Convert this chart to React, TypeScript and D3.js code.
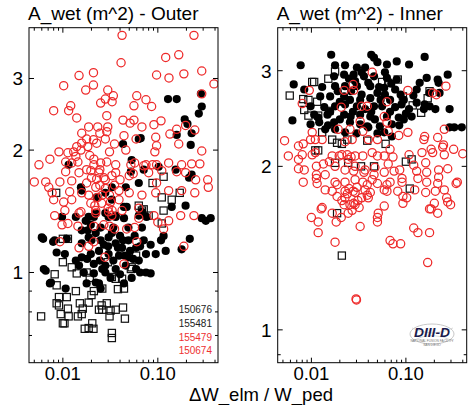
import React from 'react';
import * as d3 from 'd3';

type Pt = [number, number];

// ---- Outer divertor (left panel) ----
const outerRings: Pt[] = [
  [0.042, 3.83], [0.24, 3.83], [0.041, 3.28], [0.166, 3.43], [0.121, 3.38], [0.021, 3.1],
  [0.0148, 3.05], [0.097, 3.06], [0.131, 3.01], [0.188, 3.08], [0.29, 3.13], [0.39, 2.91],
  [0.0102, 2.88], [0.021, 2.89], [0.0174, 2.81], [0.0297, 2.81], [0.29, 2.75], [0.034, 2.72],
  [0.008, 2.5], [0.0121, 2.57], [0.0115, 2.5], [0.014, 2.4], [0.025, 2.61], [0.028, 2.67],
  [0.033, 2.63], [0.029, 2.43], [0.06, 2.72], [0.075, 2.66], [0.086, 2.56], [0.056, 2.57],
  [0.043, 2.37], [0.051, 2.33], [0.056, 2.37], [0.068, 2.28], [0.091, 2.31], [0.108, 2.36],
  [0.158, 2.25], [0.245, 2.24], [0.134, 2.19], [0.196, 2.3], [0.0158, 2.2], [0.0187, 2.28],
  [0.0233, 2.28], [0.0297, 2.28], [0.0245, 2.2], [0.029, 2.22], [0.0178, 2.13], [0.021, 2.12],
  [0.0158, 2.08], [0.014, 2.04], [0.0183, 2.04], [0.0227, 2.08], [0.028, 2.13], [0.044, 2.17],
  [0.059, 2.13], [0.095, 2.15], [0.097, 2.05], [0.166, 2.07], [0.035, 2.07],
  [0.0056, 1.84], [0.0073, 1.9], [0.0091, 1.98], [0.005, 1.67], [0.0066, 1.67], [0.0093, 1.67],
  [0.0124, 1.68], [0.013, 1.98], [0.0155, 2.0], [0.031, 1.98], [0.046, 2.0], [0.093, 1.98],
  [0.29, 1.99], [0.075, 1.84], [0.097, 1.84], [0.13, 1.86], [0.178, 1.84], [0.227, 1.85],
  [0.277, 1.85], [0.196, 1.76], [0.158, 1.77], [0.11, 1.78], [0.05, 1.73], [0.0328, 1.73],
  [0.25, 1.69], [0.335, 1.69], [0.34, 1.62], [0.245, 1.57], [0.178, 1.59], [0.13, 1.59],
  [0.095, 1.57], [0.068, 1.55], [0.05, 1.57], [0.039, 1.59], [0.028, 1.61], [0.0222, 1.62],
  [0.0187, 1.55], [0.0158, 1.57], [0.0124, 1.51], [0.0102, 1.49], [0.008, 1.51], [0.0077, 1.57],
  [0.0155, 1.41], [0.0222, 1.42], [0.0303, 1.41], [0.042, 1.42], [0.063, 1.44], [0.091, 1.38],
  [0.174, 1.38], [0.24, 1.38], [0.0197, 1.48], [0.0256, 1.48], [0.0318, 1.49], [0.039, 1.51],
  [0.028, 1.69], [0.024, 1.76], [0.0212, 1.84], [0.036, 1.84], [0.052, 1.84], [0.029, 1.87],
  [0.0178, 1.79], [0.0148, 1.76], [0.0124, 1.86], [0.0107, 1.77], [0.0113, 1.97], [0.0192, 1.94],
  [0.0144, 1.87], [0.025, 1.86], [0.057, 1.86], [0.071, 1.83], [0.088, 1.84], [0.0137, 1.93],
  [0.0107, 1.87], [0.0212, 1.9], [0.08, 1.76], [0.055, 1.75], [0.036, 1.76], [0.0197, 1.78],
  [0.0178, 1.66], [0.0227, 1.7], [0.0118, 1.58], [0.097, 1.66], [0.0071, 1.62],
  [0.0245, 1.64], [0.031, 1.55], [0.035, 1.64], [0.026, 1.55], [0.0217, 1.46], [0.033, 1.42],
  [0.0245, 1.79], [0.04, 1.69], [0.03, 1.44], [0.027, 1.71], [0.02, 1.71], [0.0233, 1.53],
  [0.0082, 1.38], [0.0105, 1.42], [0.0113, 1.32], [0.0144, 1.3], [0.0093, 1.19], [0.0098, 1.31],
  [0.0212, 1.3], [0.027, 1.31], [0.031, 1.3], [0.035, 1.28], [0.047, 1.28], [0.057, 1.29],
  [0.063, 1.36], [0.0328, 1.38], [0.0222, 1.4], [0.0148, 1.4], [0.13, 1.34], [0.115, 1.28],
  [0.1, 1.33], [0.06, 1.19], [0.0187, 1.16], [0.0148, 1.15], [0.0212, 1.19], [0.188, 1.16],
  [0.0277, 1.09], [0.044, 1.05],
];

const outerDots: Pt[] = [
  [0.128, 2.67], [0.158, 2.67], [0.284, 2.75], [0.29, 2.56], [0.27, 2.46], [0.192, 2.38],
  [0.205, 2.32], [0.158, 2.18], [0.227, 2.2], [0.222, 2.06], [0.066, 2.14], [0.063, 2.13],
  [0.043, 2.07],
  [0.0115, 1.84], [0.071, 1.79], [0.102, 1.82], [0.154, 1.79], [0.213, 1.71], [0.227, 1.74],
  [0.063, 1.66], [0.053, 1.89], [0.0158, 1.59], [0.0155, 1.62], [0.0328, 1.62], [0.046, 1.62],
  [0.052, 1.77], [0.028, 1.57], [0.0227, 1.53], [0.0328, 1.51], [0.047, 1.45], [0.068, 1.41],
  [0.0098, 1.37], [0.0137, 1.37], [0.0187, 1.37], [0.0222, 1.4], [0.0303, 1.37], [0.036, 1.37],
  [0.044, 1.45], [0.14, 1.45], [0.196, 1.46], [0.29, 1.36], [0.36, 1.36],
  [0.006, 1.22], [0.0082, 1.2], [0.011, 1.21], [0.0105, 1.11], [0.0158, 1.27], [0.0174, 1.34],
  [0.0212, 1.37], [0.028, 1.4], [0.036, 1.38], [0.044, 1.36], [0.063, 1.38], [0.076, 1.37],
  [0.0158, 1.18], [0.0187, 1.22], [0.025, 1.2], [0.0303, 1.22], [0.036, 1.18], [0.042, 1.15],
  [0.049, 1.2], [0.059, 1.15], [0.071, 1.2], [0.084, 1.17], [0.108, 1.2], [0.121, 1.13],
  [0.095, 1.11], [0.075, 1.11], [0.063, 1.07], [0.049, 1.09], [0.039, 1.1], [0.0303, 1.11],
  [0.024, 1.13], [0.0197, 1.11], [0.0158, 1.09], [0.0137, 1.07], [0.0212, 1.05], [0.028, 1.04],
  [0.036, 1.02], [0.046, 1.04], [0.059, 1.02], [0.075, 1.0], [0.084, 0.995], [0.0148, 1.04],
  [0.0166, 1.0], [0.0212, 0.995], [0.028, 1.0], [0.0066, 1.01], [0.0075, 0.945], [0.0107, 0.913],
  [0.0178, 0.94], [0.0222, 0.945], [0.025, 0.913], [0.044, 0.94], [0.0318, 0.97], [0.053, 0.97],
  [0.115, 1.23], [0.178, 1.14], [0.217, 1.21], [0.034, 1.29], [0.049, 1.29], [0.068, 1.29],
  [0.025, 1.29], [0.0197, 1.31], [0.0222, 1.25],
  [0.0062, 1.21], [0.0079, 1.19], [0.0086, 1.12], [0.0063, 1.02], [0.0073, 0.94], [0.024, 0.94],
  [0.065, 1.0], [0.32, 1.34],
  [0.0328, 1.25], [0.04, 1.23], [0.027, 1.17], [0.045, 1.1], [0.034, 1.07], [0.057, 1.23],
  [0.0245, 1.07], [0.038, 1.15], [0.0183, 1.27], [0.051, 1.13],
  [0.03, 1.16], [0.043, 1.2], [0.055, 1.08], [0.02, 1.2], [0.026, 1.02], [0.04, 0.99],
  [0.018, 1.08], [0.065, 1.16],
];

const outerSquares: Pt[] = [
  [0.01, 1.21], [0.0113, 1.21], [0.01, 1.06], [0.0124, 1.03], [0.014, 0.995], [0.0178, 1.0],
  [0.0192, 0.97], [0.0082, 0.99], [0.0086, 0.93], [0.011, 0.87], [0.0091, 0.87], [0.0091, 0.83],
  [0.0113, 0.815], [0.0137, 0.9], [0.0151, 0.84], [0.0162, 0.815], [0.0144, 0.78], [0.0158, 0.79],
  [0.0187, 0.843], [0.02, 0.88], [0.0212, 0.9], [0.026, 0.913], [0.0256, 0.83], [0.029, 0.84],
  [0.024, 0.81], [0.026, 0.81], [0.0318, 0.806], [0.036, 0.81], [0.031, 0.78], [0.043, 0.82],
  [0.045, 0.77], [0.038, 0.91], [0.044, 0.913], [0.0328, 0.975], [0.036, 0.965], [0.042, 0.965],
  [0.053, 1.03], [0.0059, 0.78], [0.01, 0.75], [0.0104, 0.75], [0.017, 0.727], [0.0187, 0.73],
  [0.021, 0.727], [0.0204, 0.75], [0.0328, 0.71], [0.0328, 0.69], [0.0086, 0.84], [0.0095, 0.79],
  [0.0115, 0.78], [0.0297, 1.06],
  [0.0085, 1.57], [0.088, 1.66], [0.115, 1.72], [0.11, 1.53], [0.14, 1.51], [0.17, 1.57],
  [0.071, 1.43], [0.115, 1.42], [0.08, 1.38], [0.063, 1.46], [0.068, 1.42], [0.11, 1.32],
  [0.059, 1.1], [0.052, 1.02],
];

// ---- Inner divertor (right panel) ----
const innerRings: Pt[] = [
  [0.044, 2.98], [0.0095, 2.76], [0.0222, 2.76], [0.0277, 2.83], [0.028, 2.76], [0.105, 2.76],
  [0.192, 2.73], [0.21, 2.71], [0.265, 2.81], [0.008, 2.61], [0.0207, 2.57], [0.034, 2.58],
  [0.039, 2.58], [0.063, 2.63], [0.059, 2.47], [0.063, 2.41], [0.0328, 2.42], [0.0192, 2.34],
  [0.0256, 2.34], [0.035, 2.32], [0.065, 2.32], [0.255, 2.34], [0.0052, 2.23], [0.0102, 2.31],
  [0.0073, 2.18], [0.0082, 2.2], [0.011, 2.24], [0.013, 2.24], [0.0227, 2.22], [0.027, 2.24],
  [0.04, 2.24], [0.05, 2.24], [0.084, 2.28], [0.105, 2.31], [0.158, 2.27], [0.217, 2.26],
  [0.245, 2.17], [0.0057, 2.09], [0.008, 2.1], [0.0102, 2.1], [0.0166, 2.09], [0.021, 2.1],
  [0.0245, 2.06], [0.029, 2.09], [0.035, 2.09], [0.044, 2.12], [0.059, 2.09], [0.073, 2.08],
  [0.108, 2.1], [0.148, 2.12], [0.192, 2.12], [0.255, 2.1], [0.4, 2.11], [0.0073, 1.98],
  [0.0084, 1.97], [0.0113, 2.0], [0.0134, 2.02], [0.0178, 2.0], [0.0227, 1.97], [0.029, 2.0],
  [0.037, 1.97], [0.047, 1.99], [0.065, 2.02], [0.086, 1.97], [0.121, 2.01], [0.162, 2.03],
  [0.166, 1.95], [0.222, 1.97], [0.277, 1.98], [0.0082, 1.87], [0.0113, 1.93], [0.0115, 1.86],
  [0.014, 1.81], [0.0178, 1.87], [0.0227, 1.87], [0.029, 1.89], [0.035, 1.87], [0.044, 1.89],
  [0.059, 1.95], [0.068, 1.87], [0.091, 1.87], [0.134, 1.9], [0.166, 1.87], [0.217, 1.86],
  [0.34, 1.86], [0.35, 1.87], [0.0166, 1.8], [0.0227, 1.8], [0.0277, 1.8], [0.037, 1.81],
  [0.063, 1.8], [0.082, 1.8], [0.124, 1.81], [0.162, 1.79], [0.205, 1.8], [0.255, 1.81],
  [0.042, 1.79], [0.093, 1.76], [0.093, 1.71], [0.2, 1.71], [0.277, 1.72], [0.297, 1.7],
  [0.01, 1.61], [0.0127, 1.67], [0.0118, 1.58], [0.0118, 1.51], [0.0166, 1.64], [0.0183, 1.58],
  [0.0207, 1.61], [0.0245, 1.64], [0.0256, 1.7], [0.029, 1.7], [0.0328, 1.55], [0.034, 1.75],
  [0.04, 1.75], [0.05, 1.61], [0.05, 1.58], [0.051, 1.64], [0.059, 1.69], [0.0178, 1.45],
  [0.068, 1.46], [0.073, 1.44], [0.088, 1.44], [0.121, 1.54], [0.134, 1.51], [0.178, 1.51],
  [0.178, 1.67], [0.185, 1.67], [0.217, 1.64], [0.17, 1.33], [0.0297, 1.14], [0.03, 1.135],
  [0.0098, 2.24], [0.011, 2.12], [0.0073, 2.06], [0.0113, 1.9], [0.014, 1.93], [0.0187, 1.85],
  [0.0155, 2.04], [0.0197, 2.09], [0.024, 2.1], [0.0263, 2.08], [0.028, 1.96], [0.036, 1.95],
  [0.046, 1.93], [0.05, 2.09], [0.068, 2.15], [0.075, 1.96], [0.091, 1.9], [0.13, 1.96],
  [0.185, 2.15], [0.155, 2.24], [0.25, 2.19], [0.32, 2.15], [0.222, 1.91], [0.102, 1.75],
  [0.063, 1.85], [0.05, 1.86], [0.039, 1.85], [0.0303, 1.83], [0.0187, 1.76], [0.0227, 1.75],
  [0.029, 1.79], [0.039, 1.77], [0.059, 1.81], [0.028, 1.71], [0.0222, 1.7], [0.013, 1.68],
  [0.27, 1.75], [0.025, 1.82], [0.031, 1.73], [0.027, 1.66], [0.024, 1.78], [0.032, 1.68],
  [0.021, 1.73],
];

const innerDots: Pt[] = [
  [0.0162, 3.21], [0.043, 3.21], [0.158, 3.18], [0.0077, 3.07], [0.0178, 3.07], [0.0227, 3.07],
  [0.0303, 3.04], [0.037, 3.04], [0.05, 3.11], [0.046, 3.17], [0.063, 3.08], [0.08, 3.12],
  [0.108, 3.08], [0.277, 2.95], [0.0065, 2.83], [0.0084, 2.77], [0.0174, 2.93], [0.0222, 2.95],
  [0.028, 2.95], [0.036, 2.93], [0.046, 2.93], [0.063, 2.91], [0.08, 2.89], [0.166, 2.91],
  [0.222, 2.85], [0.0178, 2.81], [0.0227, 2.81], [0.0303, 2.81], [0.042, 2.81], [0.059, 2.79],
  [0.077, 2.77], [0.13, 2.77], [0.178, 2.73], [0.227, 2.73], [0.0124, 2.69], [0.0158, 2.69],
  [0.0222, 2.69], [0.0256, 2.65], [0.042, 2.67], [0.05, 2.73], [0.068, 2.65], [0.095, 2.65],
  [0.13, 2.62], [0.178, 2.58], [0.0098, 2.58], [0.0137, 2.57], [0.0178, 2.58], [0.0303, 2.58],
  [0.046, 2.58], [0.056, 2.58], [0.077, 2.57], [0.108, 2.55], [0.155, 2.55], [0.29, 2.55],
  [0.0107, 2.49], [0.0148, 2.49], [0.0222, 2.49], [0.0328, 2.49], [0.042, 2.47], [0.063, 2.47],
  [0.084, 2.46], [0.115, 2.47], [0.0063, 2.43], [0.0121, 2.41], [0.0174, 2.41], [0.0256, 2.41],
  [0.039, 2.37], [0.053, 2.37], [0.071, 2.39], [0.095, 2.44], [0.29, 2.36], [0.325, 2.36],
  [0.39, 2.36], [0.0098, 2.39], [0.0118, 2.46], [0.217, 2.89], [0.205, 2.55], [0.158, 2.6],
  [0.071, 2.27], [0.059, 2.31], [0.04, 2.36], [0.0227, 2.31], [0.0178, 2.34], [0.014, 2.34],
  [0.02, 2.63], [0.0263, 2.75], [0.034, 2.71], [0.054, 2.65], [0.037, 2.55], [0.0275, 2.52],
  [0.02, 2.44], [0.0328, 2.39], [0.047, 2.44], [0.068, 2.52], [0.06, 2.71], [0.029, 2.87],
  [0.0227, 2.6], [0.088, 2.71], [0.0328, 2.65], [0.0158, 2.52],
  [0.013, 2.8], [0.019, 2.75], [0.025, 2.9], [0.04, 2.85], [0.052, 2.8], [0.07, 2.84],
  [0.09, 2.6], [0.1, 2.5], [0.12, 2.7], [0.026, 2.47], [0.043, 2.52], [0.015, 2.38],
  [0.03, 2.3], [0.05, 2.3], [0.085, 2.38], [0.034, 2.98], [0.06, 2.98], [0.14, 2.85],
];

const innerSquares: Pt[] = [
  [0.0059, 2.7], [0.0082, 2.66], [0.0102, 2.86], [0.0107, 2.86], [0.0151, 2.9], [0.0093, 2.65],
  [0.0084, 2.54], [0.0093, 2.48], [0.0118, 2.48], [0.0178, 2.99], [0.056, 2.86], [0.065, 2.85],
  [0.082, 2.89], [0.093, 2.69], [0.118, 2.59], [0.145, 2.51], [0.17, 2.67], [0.178, 2.75],
  [0.013, 2.31], [0.0166, 2.24], [0.021, 2.2], [0.039, 2.23], [0.061, 2.2], [0.011, 2.14],
  [0.0118, 2.14], [0.0178, 2.03], [0.0335, 2.0], [0.1, 2.04], [0.115, 2.06], [0.11, 1.82],
  [0.0115, 2.63], [0.0155, 2.53], [0.0187, 2.21], [0.024, 2.24], [0.0245, 2.03], [0.046, 2.0],
  [0.0187, 1.64], [0.021, 1.37],
];

// ---- Axes / legend ----
const xMajor = [0.01, 0.1];
const xMajorLabels = ['0.01', '0.10'];
const xMinor = [0.005, 0.006, 0.007, 0.008, 0.009, 0.02, 0.03, 0.04, 0.05, 0.06, 0.07, 0.08, 0.09, 0.2, 0.3, 0.4];
const yMajor = [1, 2, 3];
const yMajorLabels = ['1', '2', '3'];
const outerYMinor = [0.7, 0.8, 0.9];
const innerYMinor = [0.9];
const legendShots = ['150676', '155481', '155479', '150674'];
const legendColors = ['#222', '#222', '#ee3030', '#ee3030'];

const RED = '#ee2a2a';
const FONT = "'Liberation Sans', Arial, Helvetica, sans-serif";

interface PanelProps {
  x0: number;
  x1: number;
  yDomain: [number, number];
  xDomain: [number, number];
  title: string;
  rings: Pt[];
  dots: Pt[];
  squares: Pt[];
  yMinor: number[];
  children?: React.ReactNode;
}

const TOP = 27.7;
const BOTTOM = 362.7;

const Panel: React.FC<PanelProps> = ({ x0, x1, xDomain, yDomain, title, rings, dots, squares, yMinor, children }) => {
  const x = d3.scaleLog().domain(xDomain).range([x0, x1]);
  const y = d3.scaleLog().domain(yDomain).range([BOTTOM, TOP]);
  const major = 5;
  const minor = 3;
  return (
    <g>
      <defs>
        <clipPath id={`clip-${x0}`}>
          <rect x={x0} y={TOP} width={x1 - x0} height={BOTTOM - TOP} />
        </clipPath>
      </defs>
      <g clipPath={`url(#clip-${x0})`}>
        {squares.map((d, i) => (
          <rect key={`s${i}`} x={x(d[0]) - 3.6} y={y(d[1]) - 3.6} width={7.2} height={7.2}
            fill="none" stroke="#111" strokeWidth={1.2} />
        ))}
        {dots.map((d, i) => (
          <circle key={`d${i}`} cx={x(d[0])} cy={y(d[1])} r={4.1} fill="#000" />
        ))}
        {rings.map((d, i) => (
          <circle key={`r${i}`} cx={x(d[0])} cy={y(d[1])} r={4.1} fill="none" stroke={RED} strokeWidth={1.25} />
        ))}
      </g>
      <rect x={x0} y={TOP} width={x1 - x0} height={BOTTOM - TOP} fill="none" stroke="#000" strokeWidth={1} />
      {xMajor.map((v) => (
        <g key={`xm${v}`}>
          <line x1={x(v)} x2={x(v)} y1={BOTTOM} y2={BOTTOM - major} stroke="#000" />
          <line x1={x(v)} x2={x(v)} y1={TOP} y2={TOP + major} stroke="#000" />
        </g>
      ))}
      {xMinor.map((v) => (
        <g key={`xn${v}`}>
          <line x1={x(v)} x2={x(v)} y1={BOTTOM} y2={BOTTOM - minor} stroke="#000" />
          <line x1={x(v)} x2={x(v)} y1={TOP} y2={TOP + minor} stroke="#000" />
        </g>
      ))}
      {xMajor.map((v, i) => (
        <text key={`xl${v}`} x={x(v)} y={379.8} textAnchor="middle" fontSize={18.5} fontFamily={FONT}>
          {xMajorLabels[i]}
        </text>
      ))}
      {yMajor.map((v, i) => (
        <g key={`ym${v}`}>
          <line x1={x0} x2={x0 + major} y1={y(v)} y2={y(v)} stroke="#000" />
          <line x1={x1} x2={x1 - major} y1={y(v)} y2={y(v)} stroke="#000" />
          <text x={x0 - 6} y={y(v)} dy="0.36em" textAnchor="end" fontSize={19} fontFamily={FONT}>
            {yMajorLabels[i]}
          </text>
        </g>
      ))}
      {yMinor.map((v) => (
        <g key={`yn${v}`}>
          <line x1={x0} x2={x0 + minor} y1={y(v)} y2={y(v)} stroke="#000" />
          <line x1={x1} x2={x1 - minor} y1={y(v)} y2={y(v)} stroke="#000" />
        </g>
      ))}
      <text x={x0 - 1} y={20} fontSize={19} fontFamily={FONT}>{title}</text>
      {children}
    </g>
  );
};

export default function App() {
  return (
    <svg width={471} height={405} style={{ position: 'absolute', left: 0, top: 0, background: '#fff' }}>
      <rect width={471} height={405} fill="#fff" />
      <Panel x0={29} x1={218} xDomain={[0.0044, 0.43]} yDomain={[0.6, 4.0]} title="A_wet (m^2) - Outer"
        rings={outerRings} dots={outerDots} squares={outerSquares} yMinor={outerYMinor}>
        {legendShots.map((s, i) => (
          <text key={s} x={212} y={313 + i * 13.8} textAnchor="end" fontSize={10} fontFamily={FONT} fill={legendColors[i]}>
            {s}
          </text>
        ))}
      </Panel>
      <Panel x0={277.7} x1={466.7} xDomain={[0.0044, 0.44]} yDomain={[0.87, 3.6]} title="A_wet (m^2) - Inner"
        rings={innerRings} dots={innerDots} squares={innerSquares} yMinor={innerYMinor}>
        <g>
          <ellipse cx={432} cy={334} rx={22} ry={10} fill="none" stroke="#c8c8c8" strokeWidth={1} />
          <path d="M412,328 Q432,338 453,328 M412,341 Q432,330 453,341" fill="none" stroke="#d0d0d0" strokeWidth={0.8} />
          <text x={432} y={337} textAnchor="middle" fontSize={13} fontWeight="bold" fontStyle="italic"
            fontFamily={FONT} fill="#1b1b4d" textLength={36} lengthAdjust="spacingAndGlyphs">DIII-D</text>
          <text x={432} y={341.5} textAnchor="middle" fontSize={3.2} fontFamily={FONT} fill="#777">NATIONAL FUSION FACILITY</text>
          <text x={432} y={345.5} textAnchor="middle" fontSize={3.2} fontFamily={FONT} fill="#777">SAN DIEGO</text>
        </g>
      </Panel>
      <text x={261} y={400.5} textAnchor="middle" fontSize={18.5} fontFamily={FONT}>ΔW_elm / W_ped</text>
    </svg>
  );
}
